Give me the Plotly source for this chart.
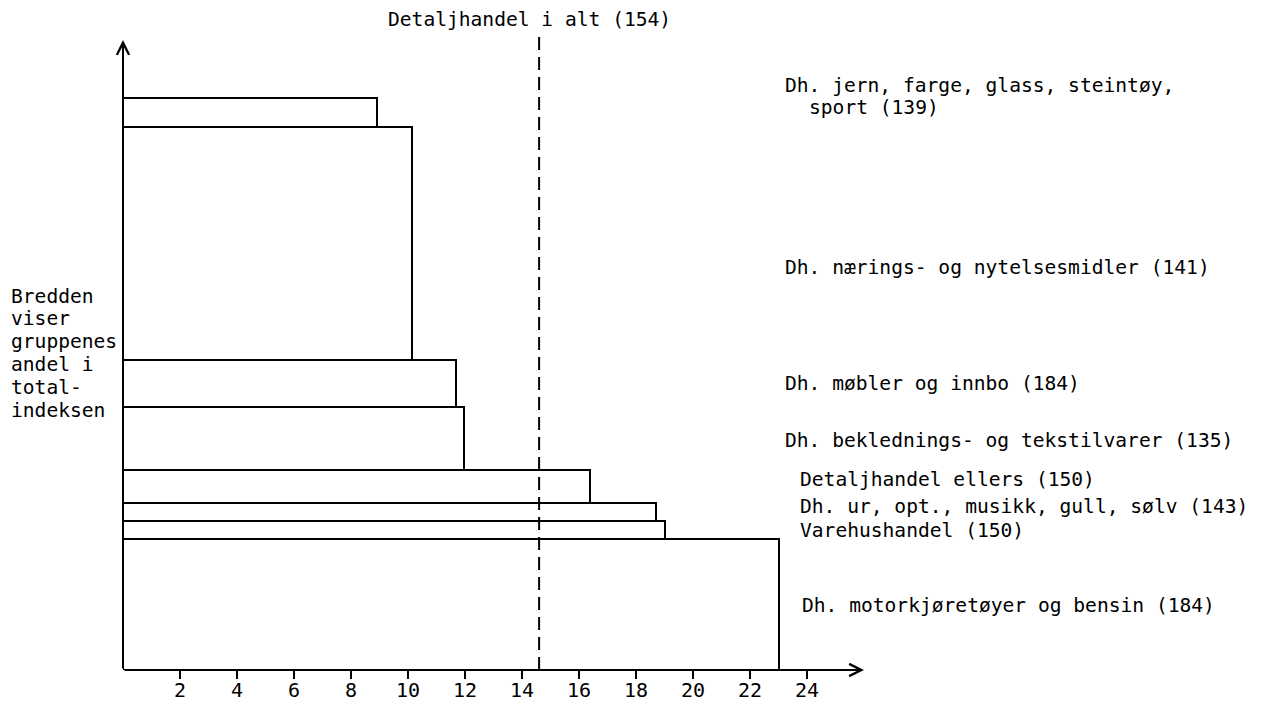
import numpy as np
import plotly.graph_objects as go

# ---- data (bottom to top) ----
groups = [
    "Dh. motorkjøretøyer og bensin",
    "Varehushandel",
    "Dh. ur, opt., musikk, gull, sølv",
    "Detaljhandel ellers",
    "Dh. beklednings- og tekstilvarer",
    "Dh. møbler og innbo",
    "Dh. nærings- og nytelsesmidler",
    "Dh. jern, farge, glass, steintøy, sport",
]
index_values = [184, 150, 143, 150, 135, 184, 141, 139]
weights = [22.9, 3.1, 3.1, 5.9, 10.9, 8.2, 40.8, 5.1]      # bar thickness (share of total index)
lengths = [23.0, 19.0, 18.7, 16.4, 11.95, 11.7, 10.15, 8.9]  # bar length
total_label = "Detaljhandel i alt"
total_index = 154
total_value = 14.6
x_ticks = [2, 4, 6, 8, 10, 12, 14, 16, 18, 20, 22, 24]
side_note = ["Bredden", "viser", "gruppenes", "andel i", "total-", "indeksen"]

FONT = "DejaVu Sans Mono"
FS = 19.6

w = np.array(weights)
tops = np.cumsum(w)
centers = tops - w / 2

fig = go.Figure()
fig.add_trace(go.Bar(
    orientation="h", x=lengths, y=centers, width=weights, base=0,
    marker=dict(color="white", line=dict(color="black", width=2)),
    cliponaxis=False, showlegend=False, hoverinfo="skip",
))

XMAX, YMAX = 26, 110.1
T, B, L, R = 40, 34, 123, 397
plot_h = 704 - T - B

def py2paper(py):
    return (704 - B - py) / plot_h

def px2paper(px):
    return (px - L) / (1261 - L - R)

annotations = []
# axes with arrowheads
annotations.append(dict(x=XMAX, y=0, ax=0, ay=0, xref="x", yref="y", axref="x", ayref="y",
                        showarrow=True, arrowhead=5, arrowwidth=2, arrowsize=1.2,
                        arrowcolor="black", text=""))
annotations.append(dict(x=0, y=YMAX, ax=0, ay=0, xref="x", yref="y", axref="x", ayref="y",
                        showarrow=True, arrowhead=5, arrowwidth=2, arrowsize=1.2,
                        arrowcolor="black", text=""))

# title of dashed line
annotations.append(dict(x=px2paper(529), y=py2paper(20), xref="paper", yref="paper",
                        text=f"{total_label} ({total_index})", showarrow=False,
                        xanchor="center", yanchor="middle", font=dict(family=FONT, size=FS, color="black")))

# right-side labels: (group index, list of (px, py, text))
label_pos = {
    7: [(783, 86, "Dh. jern, farge, glass, steintøy,"), (807, 108, "sport (%d)" % index_values[7])],
    6: [(783, 267, None)],
    5: [(783, 383, None)],
    4: [(783, 440, None)],
    3: [(798, 479, None)],
    2: [(798, 506, None)],
    1: [(798, 530, None)],
    0: [(800, 605, None)],
}
for gi, lines in label_pos.items():
    for px, py, txt in lines:
        if txt is None:
            txt = f"{groups[gi]} ({index_values[gi]})"
        annotations.append(dict(x=px2paper(px), y=py2paper(py), xref="paper", yref="paper",
                                text=txt, showarrow=False, xanchor="left", yanchor="middle",
                                font=dict(family=FONT, size=FS, color="black")))

# left note
for i, line in enumerate(side_note):
    annotations.append(dict(x=px2paper(9), y=py2paper(296 + i * 22.8), xref="paper", yref="paper",
                            text=line, showarrow=False, xanchor="left", yanchor="middle",
                            font=dict(family=FONT, size=FS, color="black")))

fig.update_layout(
    width=1261, height=704,
    margin=dict(l=L, r=R, t=T, b=B, autoexpand=False),
    paper_bgcolor="white", plot_bgcolor="white",
    bargap=0,
    xaxis=dict(range=[0, XMAX], tickvals=x_ticks, ticktext=[str(v) for v in x_ticks],
               ticks="outside", ticklen=8, tickwidth=2, tickcolor="black",
               showgrid=False, zeroline=False, showline=False, automargin=False,
               ticklabelstandoff=-6,
               tickfont=dict(family=FONT, size=20, color="black")),
    yaxis=dict(range=[0, YMAX], showticklabels=False, ticks="", showgrid=False,
               zeroline=False, showline=False, automargin=False),
    annotations=annotations,
    shapes=[dict(type="line", xref="x", yref="paper", x0=total_value, x1=total_value,
                 y0=0, y1=py2paper(37), line=dict(color="black", width=2, dash="13px,7px"))],
)

fig.write_html("out.html", config={"displayModeBar": False},
               post_script="document.body.style.margin='0';document.body.style.overflow='hidden';")
